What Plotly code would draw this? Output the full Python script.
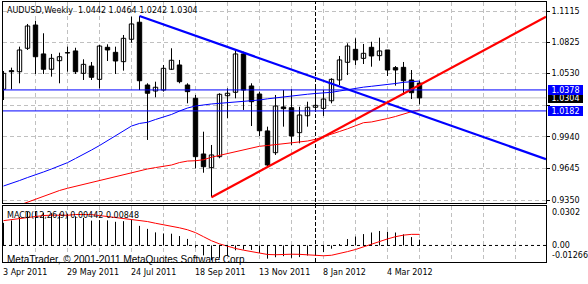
import plotly.graph_objects as go

# ---------------- data (weekly AUDUSD, bar index 0 = week of 3 Apr 2011) ----------------
opens = [1.0384, 1.0558, 1.0548, 1.0767, 1.0984, 1.0714, 1.0571, 1.0651, 1.0726, 1.0742,
         1.0533, 1.0601, 1.0477, 1.0776, 1.0729, 1.0642, 1.0851, 1.1010, 1.0424, 1.0368,
         1.0377, 1.0571, 1.0611, 1.0424, 1.0300, 0.9780, 0.9652, 0.9755, 1.0324, 1.0356,
         1.0714, 1.0415, 1.0340, 0.9995, 0.9792, 1.0219, 1.0212, 0.9979, 1.0137, 1.0216,
         1.0206, 1.0277, 1.0471, 1.0636, 1.0757, 1.0673, 1.0776, 1.0698, 1.0751, 1.0586,
         1.0589, 1.0471, 1.0442]
highs = [1.0555, 1.0586, 1.0782, 1.0994, 1.1024, 1.0907, 1.0714, 1.0726, 1.0782, 1.0772,
         1.0664, 1.0639, 1.0798, 1.0804, 1.0782, 1.0891, 1.1062, 1.1068, 1.0440, 1.0455,
         1.0611, 1.0767, 1.0658, 1.0440, 1.0331, 0.9988, 0.9864, 1.0347, 1.0393, 1.0757,
         1.0735, 1.0440, 1.0362, 1.0035, 1.0331, 1.0377, 1.0384, 1.0221, 1.0268, 1.0415,
         1.0377, 1.0487, 1.0695, 1.0813, 1.0860, 1.0807, 1.0828, 1.0866, 1.0751, 1.0601,
         1.0639, 1.0564, 1.0464]
lows = [1.0284, 1.0384, 1.0440, 1.0751, 1.0527, 1.0527, 1.0502, 1.0440, 1.0548, 1.0527,
        1.0471, 1.0471, 1.0393, 1.0648, 1.0527, 1.0558, 1.0819, 1.0377, 0.9911, 1.0309,
        1.0362, 1.0564, 1.0440, 1.0253, 0.9646, 0.9605, 0.9376, 0.9740, 1.0113, 1.0300,
        1.0191, 1.0041, 0.9948, 0.9661, 0.9771, 1.0035, 0.9864, 0.9880, 1.0035, 1.0175,
        1.0135, 1.0253, 1.0424, 1.0517, 1.0611, 1.0620, 1.0595, 1.0651, 1.0508, 1.0418,
        1.0331, 1.0293, 1.0242]
closes = [1.0533, 1.0548, 1.0751, 1.0975, 1.0688, 1.0571, 1.0673, 1.0688, 1.0723, 1.0548,
          1.0617, 1.0496, 1.0788, 1.0751, 1.0648, 1.0860, 1.0994, 1.0464, 1.0347, 1.0403,
          1.0580, 1.0655, 1.0455, 1.0362, 0.9755, 0.9661, 0.9771, 1.0337, 1.0347, 1.0714,
          1.0377, 1.0268, 0.9997, 0.9677, 1.0228, 1.0203, 0.9948, 1.0144, 1.0216, 1.0234,
          1.0293, 1.0477, 1.0658, 1.0788, 1.0658, 1.0720, 1.0695, 1.0742, 1.0564, 1.0564,
          1.0464, 1.0352, 1.0304]
ma_blue = [0.9481, 0.9504, 0.9532, 0.9560, 0.9584, 0.9612, 0.9640, 0.9668, 0.9699, 0.9738,
           0.9775, 0.9817, 0.9859, 0.9906, 0.9953, 0.9999, 1.0041, 1.0065, 1.0076, 1.0102,
           1.0125, 1.0149, 1.0181, 1.0209, 1.0228, 1.0239, 1.0247, 1.0253, 1.0258, 1.0263,
           1.0267, 1.0275, 1.0284, 1.0295, 1.0305, 1.0312, 1.0321, 1.0331, 1.0338, 1.0345,
           1.0349, 1.0356, 1.0368, 1.0382, 1.0393, 1.0404, 1.0412, 1.0419, 1.0426, 1.0438,
           1.0449, 1.0457, 1.0461]
ma_red = [0.9248, 0.9276, 0.9299, 0.9325, 0.9355, 0.9388, 0.9416, 0.9439, 0.9460, 0.9478,
          0.9497, 0.9516, 0.9535, 0.9554, 0.9573, 0.9591, 0.9609, 0.9625, 0.9640, 0.9653,
          0.9662, 0.9677, 0.9700, 0.9714, 0.9717, 0.9726, 0.9750, 0.9768, 0.9785, 0.9803,
          0.9819, 0.9836, 0.9852, 0.9859, 0.9867, 0.9873, 0.9881, 0.9888, 0.9901, 0.9917,
          0.9939, 0.9964, 0.9990, 1.0015, 1.0046, 1.0072, 1.0079, 1.0093, 1.0111, 1.0130,
          1.0153, 1.0175, 1.0191]
macd_main = [0.0173, 0.0191, 0.0219, 0.0256, 0.0259, 0.0250, 0.0247, 0.0244, 0.0241, 0.0223,
             0.0211, 0.0190, 0.0194, 0.0192, 0.0181, 0.0186, 0.0199, 0.0150, 0.0127, 0.0100,
             0.0092, 0.0090, 0.0072, 0.0050, -0.0017, -0.0076, -0.0113, -0.0095, -0.0080, -0.0037,
             -0.0031, -0.0034, -0.0057, -0.0101, -0.0090, -0.0082, -0.0095, -0.0089, -0.0077, -0.0066,
             -0.0051, -0.0025, 0.0011, 0.0049, 0.0068, 0.0087, 0.0099, 0.0111, 0.0105, 0.0099,
             0.0085, 0.0064, 0.00442]
macd_signal = [0.0190, 0.0198, 0.0207, 0.0216, 0.0224, 0.0229, 0.0232, 0.0232, 0.0231, 0.0237,
               0.0239, 0.0236, 0.0229, 0.0221, 0.0214, 0.0207, 0.0202, 0.0193, 0.0183, 0.0170,
               0.0160, 0.0148, 0.0135, 0.0120, 0.0098, 0.0067, 0.0036, 0.0012, -0.0008, -0.0023,
               -0.0036, -0.0048, -0.0060, -0.0069, -0.0071, -0.0067, -0.0067, -0.0068, -0.0073, -0.0077,
               -0.0079, -0.0075, -0.0063, -0.0047, -0.0031, -0.0010, 0.0011, 0.0031, 0.0050, 0.0067,
               0.0079, 0.0085, 0.00848]

x_label_bars = [0, 8, 16, 24, 32, 40, 48]
x_labels = ["3 Apr 2011", "29 May 2011", "24 Jul 2011", "18 Sep 2011",
            "13 Nov 2011", "8 Jan 2012", "4 Mar 2012"]
price_ticks = [1.1115, 1.0825, 1.0530, 1.0235, 0.9940, 0.9645, 0.9350]
price_ticktext = ["1.1115", "1.0825", "1.0530", "", "0.9940", "0.9645", "0.9350"]
macd_max, macd_min = 0.0302, -0.01266

blue_trend_x = [17, 67.8125]
blue_trend_y = [1.1068, 0.9732]
red_trend_x = [26, 67.8125]
red_trend_y = [0.9376, 1.1061]
hline_blue = [1.0378, 1.0182]
bid_price = 1.0304
separator_bar = 39
x_range = [-0.0625, 67.8125]
y_range = [0.93223, 1.11990]

FONT = "DejaVu Sans"
GRID = "#C0C0C0"
BLUE = "#0000FF"
RED = "#FF0000"

n = len(closes)
bars = list(range(n))
fig = go.Figure()

# wicks
wx, wy = [], []
for i in bars:
    wx += [i, i, None]
    wy += [lows[i], highs[i], None]
fig.add_trace(go.Scatter(x=wx, y=wy, mode="lines", line=dict(color="black", width=1),
                         xaxis="x", yaxis="y", hoverinfo="skip"))
# bodies
bases = [min(o, c) for o, c in zip(opens, closes)]
heights = [max(abs(c - o), 0.0003) for o, c in zip(opens, closes)]
colors = ["white" if c >= o else "black" for o, c in zip(opens, closes)]
fig.add_trace(go.Bar(x=bars, y=heights, base=bases, width=0.55,
                     marker=dict(color=colors, line=dict(color="black", width=1)),
                     xaxis="x", yaxis="y"))
# moving averages
fig.add_trace(go.Scatter(x=bars, y=ma_blue, mode="lines", line=dict(color=BLUE, width=1),
                         xaxis="x", yaxis="y"))
fig.add_trace(go.Scatter(x=bars, y=ma_red, mode="lines", line=dict(color=RED, width=1),
                         xaxis="x", yaxis="y"))
# trend lines
fig.add_trace(go.Scatter(x=blue_trend_x, y=blue_trend_y, mode="lines",
                         line=dict(color=BLUE, width=2.2), xaxis="x", yaxis="y"))
fig.add_trace(go.Scatter(x=red_trend_x, y=red_trend_y, mode="lines",
                         line=dict(color=RED, width=2.2), xaxis="x", yaxis="y"))

# MACD histogram
hx, hy = [], []
for i in bars:
    hx += [i, i, None]
    hy += [0, macd_main[i], None]
fig.add_trace(go.Scatter(x=hx, y=hy, mode="lines", line=dict(color="black", width=1),
                         xaxis="x2", yaxis="y2"))
fig.add_trace(go.Scatter(x=bars, y=macd_signal, mode="lines", line=dict(color=RED, width=1),
                         xaxis="x2", yaxis="y2"))

shapes = []
shapes.append(dict(type="line", xref="x domain", x0=0, x1=1, yref="y", y0=bid_price, y1=bid_price,
                   line=dict(color=GRID, width=1), layer="below"))
for v in hline_blue:
    shapes.append(dict(type="line", xref="x domain", x0=0, x1=1, yref="y", y0=v, y1=v,
                       line=dict(color=BLUE, width=1)))
shapes.append(dict(type="line", xref="x", x0=separator_bar, x1=separator_bar, yref="paper", y0=0, y1=1,
                   line=dict(color="black", width=1, dash="4px,2px"), layer="below"))
shapes.append(dict(type="line", xref="x2 domain", x0=0, x1=1, yref="y2", y0=0, y1=0,
                   line=dict(color="black", width=1, dash="3px,3px")))

W, H = 588, 284
ml, mr, mt, mb = 3, 42, 2, 22
pw, ph = W - ml - mr, H - mt - mb


def px(xp):
    return (xp - ml) / pw


def py(yp):
    return (H - mb - yp) / ph


ann = []
ann.append(dict(text="AUDUSD,Weekly  1.0442 1.0464 1.0242 1.0304", x=px(5), y=py(11), xref="paper", yref="paper",
                xanchor="left", yanchor="middle", showarrow=False, font=dict(family=FONT, size=8, color="black")))
ann.append(dict(text="MACD(12,26,9) 0.00442 0.00848", x=px(5), y=py(215.5), xref="paper", yref="paper",
                xanchor="left", yanchor="middle", showarrow=False, font=dict(family=FONT, size=8, color="black")))
ann.append(dict(text="MetaTrader, © 2001-2011 MetaQuotes Software Corp.", x=px(5), y=py(259), xref="paper",
                yref="paper", xanchor="left", yanchor="middle", showarrow=False,
                font=dict(family="Liberation Sans", size=10, color="black")))
for b, t in zip(x_label_bars, x_labels):
    ann.append(dict(text=t, x=b, xref="x2", y=py(272), yref="paper", xanchor="left", yanchor="middle",
                    xshift=-3, showarrow=False, font=dict(family=FONT, size=8, color="black")))
# MACD scale labels
ann.append(dict(text="0.0302", x=1, xref="paper", y=macd_max, yref="y2", xanchor="left", yanchor="top",
                xshift=4, showarrow=False, font=dict(family=FONT, size=8, color="black")))
ann.append(dict(text="0.00", x=1, xref="paper", y=0, yref="y2", xanchor="left", yanchor="middle",
                xshift=4, showarrow=False, font=dict(family=FONT, size=8, color="black")))
ann.append(dict(text="-0.01266", x=1, xref="paper", y=macd_min, yref="y2", xanchor="left", yanchor="bottom",
                xshift=4, showarrow=False, font=dict(family=FONT, size=8, color="black")))
# price boxes
for v, col in [(bid_price, "black"), (hline_blue[0], BLUE), (hline_blue[1], BLUE)]:
    ann.append(dict(text=f"{v:.4f}", x=1, xref="paper", y=v, yref="y", xanchor="left", yanchor="middle",
                    xshift=2, showarrow=False, bgcolor=col, borderpad=0, borderwidth=0, width=35, height=10,
                    align="center", font=dict(family=FONT, size=8, color="white")))

axis_common = dict(showline=True, mirror=True, linecolor="black", linewidth=1, zeroline=False)
fig.update_layout(
    width=W, height=H, margin=dict(l=ml, r=mr, t=mt, b=mb),
    paper_bgcolor="white", plot_bgcolor="white", showlegend=False, barmode="overlay",
    xaxis=dict(domain=[0, 1], anchor="y", range=x_range, showticklabels=False,
               tickvals=list(range(4, 68, 4)), ticks="", showgrid=True, gridcolor=GRID,
               griddash="4px,3px", gridwidth=1, **axis_common),
    xaxis2=dict(domain=[0, 1], anchor="y2", range=x_range, matches="x", showticklabels=False,
                tickvals=list(range(4, 68, 4)), ticks="", showgrid=True, gridcolor=GRID,
                griddash="4px,3px", gridwidth=1, **axis_common),
    yaxis=dict(domain=[py(203), 1], anchor="x", side="right", range=y_range,
               tickvals=price_ticks, ticktext=price_ticktext, ticks="outside", ticklen=3,
               tickcolor="black", showgrid=True, gridcolor=GRID, griddash="4px,3px",
               tickfont=dict(family=FONT, size=8, color="black"), **axis_common),
    yaxis2=dict(domain=[0, py(206)], anchor="x2", side="right", range=[macd_min, macd_max],
                showticklabels=False, showgrid=False, tickvals=[], **axis_common),
    shapes=shapes, annotations=ann,
)

fig.write_html("out.html")
